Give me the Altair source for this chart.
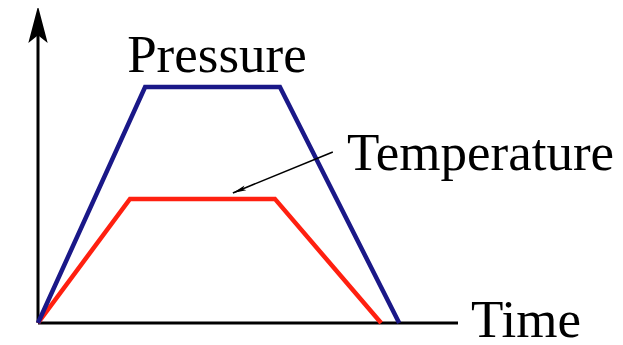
import altair as alt
import pandas as pd

# Schematic values (arbitrary units): time axis 0-100, value axis 0-100
time_pressure = [0, 25.5, 57.6, 86.0]
pressure = [0, 74.9, 74.9, 0]
time_temperature = [0, 21.9, 56.4, 81.7]
temperature = [0, 39.4, 39.4, 0]

axis_x_end = 100
axis_y_end = 100
arrow_tip_y = 100.6

label_texts = ["Pressure", "Temperature", "Time"]
label_x = [42.6, 73.6, 103.1]
label_y = [79.7, 48.6, -4.6]
label_align = ["center", "left", "left"]

# annotation arrow for Temperature
annot_start = (70.2, 54.3)
annot_end = (46.4, 41.3)

xs = alt.Scale(domain=[0, 100], range=[30, 450])
ys = alt.Scale(domain=[0, 100], range=[315, 0])

p_df = pd.DataFrame({"t": time_pressure, "v": pressure, "o": range(len(pressure))})
t_df = pd.DataFrame({"t": time_temperature, "v": temperature, "o": range(len(temperature))})

axes_df = pd.DataFrame({
    "x": [0, 0], "x2": [axis_x_end, 0],
    "y": [0, 0], "y2": [0, axis_y_end - 3],
})

axes = alt.Chart(axes_df).mark_rule(color="black", strokeWidth=3).encode(
    x=alt.X("x:Q", scale=xs, axis=None),
    x2="x2:Q",
    y=alt.Y("y:Q", scale=ys, axis=None),
    y2="y2:Q",
)

y_arrow = alt.Chart(pd.DataFrame({"x": [0], "y": [arrow_tip_y]})).mark_point(
    shape="M0,0 L0.5,1.9 L0,1.5 L-0.5,1.9 Z",
    filled=True, color="black", opacity=1, size=1500, strokeWidth=0,
).encode(
    x=alt.X("x:Q", scale=xs, axis=None),
    y=alt.Y("y:Q", scale=ys, axis=None),
)

red = alt.Chart(t_df).mark_line(color="#ff2010", strokeWidth=4.5).encode(
    x=alt.X("t:Q", scale=xs, axis=None),
    y=alt.Y("v:Q", scale=ys, axis=None),
    order="o:Q",
)

blue = alt.Chart(p_df).mark_line(color="#1a1888", strokeWidth=4.5).encode(
    x=alt.X("t:Q", scale=xs, axis=None),
    y=alt.Y("v:Q", scale=ys, axis=None),
    order="o:Q",
)

annot_df = pd.DataFrame({
    "x": [annot_start[0]], "y": [annot_start[1]],
    "x2": [annot_end[0]], "y2": [annot_end[1]],
})
annot_line = alt.Chart(annot_df).mark_rule(color="black", strokeWidth=1.6).encode(
    x=alt.X("x:Q", scale=xs, axis=None),
    x2="x2:Q",
    y=alt.Y("y:Q", scale=ys, axis=None),
    y2="y2:Q",
)
annot_head = alt.Chart(pd.DataFrame({"x": [annot_end[0]], "y": [annot_end[1]]})).mark_point(
    shape="M0,0 L0.35,1.9 L0,1.5 L-0.35,1.9 Z",
    filled=True, color="black", opacity=1, size=200, strokeWidth=0, angle=248,
).encode(
    x=alt.X("x:Q", scale=xs, axis=None),
    y=alt.Y("y:Q", scale=ys, axis=None),
)

labels_df = pd.DataFrame({"label": label_texts, "x": label_x, "y": label_y, "align": label_align})
labels = []
for i in range(len(label_texts)):
    labels.append(
        alt.Chart(labels_df.iloc[[i]]).mark_text(
            font="Liberation Serif", fontSize=53, color="black",
            align=label_align[i], baseline="alphabetic",
        ).encode(
            x=alt.X("x:Q", scale=xs, axis=None),
            y=alt.Y("y:Q", scale=ys, axis=None),
            text="label:N",
        )
    )

chart = alt.layer(axes, y_arrow, red, blue, annot_line, annot_head, *labels).properties(
    width=607, height=337, autosize=alt.AutoSizeParams(type="none"), padding=0,
).configure_view(stroke=None)

chart.save("out.html", embed_options={"renderer": "svg", "actions": False})
